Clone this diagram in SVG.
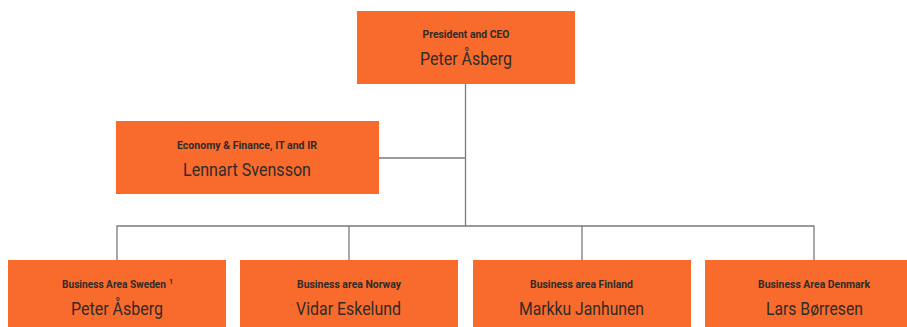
<svg xmlns="http://www.w3.org/2000/svg" width="907" height="327" viewBox="0 0 907 327">
<style>
.box{fill:#F96B2C;}
.lbl{font-family:Roboto,"Liberation Sans",sans-serif;font-weight:bold;font-size:10.5px;fill:#2f2b29;text-anchor:middle;}
.nm{font-family:Roboto,"Liberation Sans",sans-serif;font-size:18px;fill:#2f2b29;text-anchor:middle;}
.sup{font-family:Roboto,"Liberation Sans",sans-serif;font-weight:bold;font-size:7px;fill:#2f2b29;}
.ln{stroke:#7a7a7a;stroke-width:1.3;fill:none;}
</style>
<rect width="907" height="327" fill="#ffffff"/>
<g id="connectors">
<path class="ln" d="M465.5 84V226"/>
<path class="ln" d="M379 158H465.5"/>
<path class="ln" d="M117 260V226H814V260"/>
<path class="ln" d="M349 226V260"/>
<path class="ln" d="M582 226V260"/>
</g>
<g id="ceo">
<rect class="box" x="357" y="11" width="218" height="73"/>
<text class="lbl" x="466" y="38" textLength="87" lengthAdjust="spacingAndGlyphs">President and CEO</text>
<text class="nm" x="466" y="65" textLength="92" lengthAdjust="spacingAndGlyphs">Peter Åsberg</text>
</g>
<g id="finance">
<rect class="box" x="116" y="121" width="263" height="73"/>
<text class="lbl" x="247" y="149" textLength="140" lengthAdjust="spacingAndGlyphs">Economy &amp; Finance, IT and IR</text>
<text class="nm" x="247" y="176" textLength="128" lengthAdjust="spacingAndGlyphs">Lennart Svensson</text>
</g>
<g id="sweden">
<rect class="box" x="8" y="260" width="218" height="73"/>
<text class="lbl" x="114" y="288" textLength="104" lengthAdjust="spacingAndGlyphs">Business Area Sweden</text>
<text class="sup" x="169" y="284">1</text>
<text class="nm" x="117" y="315" textLength="92" lengthAdjust="spacingAndGlyphs">Peter Åsberg</text>
</g>
<g id="norway">
<rect class="box" x="240" y="260" width="218" height="73"/>
<text class="lbl" x="349" y="288" textLength="104" lengthAdjust="spacingAndGlyphs">Business area Norway</text>
<text class="nm" x="348.5" y="315" textLength="105" lengthAdjust="spacingAndGlyphs">Vidar Eskelund</text>
</g>
<g id="finland">
<rect class="box" x="473" y="260" width="218" height="73"/>
<text class="lbl" x="581.5" y="288" textLength="103" lengthAdjust="spacingAndGlyphs">Business area Finland</text>
<text class="nm" x="581.5" y="315" textLength="125" lengthAdjust="spacingAndGlyphs">Markku Janhunen</text>
</g>
<g id="denmark">
<rect class="box" x="705" y="260" width="218" height="73"/>
<text class="lbl" x="814" y="288" textLength="112" lengthAdjust="spacingAndGlyphs">Business Area Denmark</text>
<text class="nm" x="814.5" y="315" textLength="97" lengthAdjust="spacingAndGlyphs">Lars Børresen</text>
</g>
</svg>
